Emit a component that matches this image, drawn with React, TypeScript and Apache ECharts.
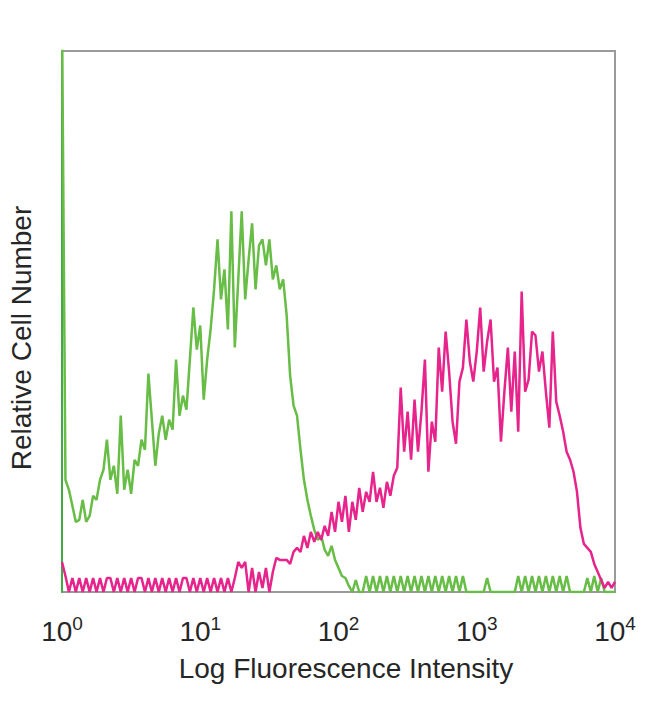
import React, { useEffect, useRef } from "react";
import * as echarts from "echarts";

// Histogram channels: 40 channels per decade, 4 decades (10^0 .. 10^4)
const channelsPerDecade = 40;
const decadeTicks = ["0", "1", "2", "3", "4"];

// Unstained / control (green), relative counts per channel 0..160
const greenCounts = [
  290, 56, 51, 43, 35, 36, 46, 35, 38, 48,
  46, 56, 61, 76, 56, 63, 49, 88, 51, 61,
  49, 66, 63, 76, 71, 109, 86, 63, 79, 88,
  76, 86, 81, 116, 88, 98, 91, 116, 142, 121,
  133, 96, 116, 131, 151, 176, 146, 161, 131, 190,
  122, 156, 190, 146, 166, 184, 151, 173, 176, 163,
  176, 156, 163, 151, 156, 138, 108, 93, 88, 71,
  56, 46, 38, 31, 26, 28, 21, 18, 23, 16,
  12, 8, 7, 3, 0, 6, 0, 0, 8, 0,
  8, 0, 8, 0, 8, 0, 8, 0, 8, 0,
  8, 0, 8, 0, 8, 0, 8, 0, 8, 0,
  8, 0, 8, 0, 8, 0, 8, 0, 0, 0,
  0, 0, 0, 7, 0, 0, 0, 0, 0, 0,
  0, 0, 8, 0, 8, 0, 8, 0, 8, 0,
  8, 0, 8, 0, 8, 0, 8, 0, 0, 0,
  0, 0, 7, 0, 8, 0, 7, 0, 0, 0,
  0,
];

// Stained sample (magenta), relative counts per channel 0..160
const magentaCounts = [
  15, 8, 0, 7, 0, 7, 0, 7, 0, 7,
  0, 7, 0, 7, 7, 0, 7, 0, 7, 0,
  7, 0, 7, 7, 0, 7, 0, 7, 0, 7,
  0, 7, 0, 7, 0, 7, 7, 0, 7, 0,
  7, 0, 7, 0, 7, 0, 7, 0, 7, 0,
  7, 15, 12, 15, 0, 12, 0, 10, 2, 12,
  0, 10, 17, 16, 16, 16, 14, 20, 22, 20,
  28, 22, 30, 25, 30, 26, 33, 28, 40, 30,
  45, 35, 48, 30, 45, 36, 52, 40, 50, 45,
  60, 45, 52, 42, 55, 48, 58, 62, 102, 70,
  90, 66, 96, 70, 90, 116, 60, 85, 75, 122,
  100, 130, 110, 85, 74, 105, 112, 136, 115, 105,
  120, 142, 110, 125, 136, 105, 112, 75, 100, 122,
  90, 120, 80, 150, 100, 106, 130, 128, 110, 120,
  100, 82, 130, 95, 88, 80, 70, 66, 60, 50,
  32, 24, 22, 20, 14, 10, 6, 2, 5, 2,
  5,
];

const greenColor = "#67bd45";
const magentaColor = "#e6248c";
const font = "Liberation Sans";
const textColor = "#262626";

export default function App() {
  const ref = useRef<HTMLDivElement>(null);

  useEffect(() => {
    if (!ref.current) return;
    const chart = echarts.init(ref.current, null, { renderer: "svg" });
    const maxCh = channelsPerDecade * (decadeTicks.length - 1);
    chart.setOption({
      animation: false,
      backgroundColor: "#ffffff",
      grid: {
        left: 62,
        top: 51,
        width: 553,
        height: 541,
        show: true,
        borderColor: "#9a9a9a",
        borderWidth: 2,
      },
      xAxis: {
        type: "value",
        min: 0,
        max: maxCh,
        interval: channelsPerDecade,
        axisLine: { show: false },
        axisTick: { show: false },
        splitLine: { show: false },
        axisLabel: {
          margin: 22,
          color: textColor,
          fontFamily: font,
          formatter: (v: number) =>
            `{b|10}{s|${decadeTicks[Math.round(v / channelsPerDecade)]}}`,
          rich: {
            b: { fontSize: 28, fontFamily: font, color: textColor },
            s: {
              fontSize: 19,
              fontFamily: font,
              color: textColor,
              padding: [0, 0, 16, 0],
            },
          },
        },
      },
      yAxis: {
        type: "value",
        min: 0,
        max: 270,
        axisLine: { show: true, lineStyle: { color: "#45a848", width: 2 } },
        axisTick: { show: false },
        axisLabel: { show: false },
        splitLine: { show: false },
      },
      graphic: [
        {
          type: "text",
          x: 21,
          y: 338,
          rotation: Math.PI / 2,
          style: {
            text: "Relative Cell Number",
            fontSize: 28,
            fontFamily: font,
            fill: textColor,
            align: "center",
            verticalAlign: "middle",
          },
        },
        {
          type: "text",
          x: 346,
          y: 668,
          style: {
            text: "Log Fluorescence Intensity",
            fontSize: 28,
            fontFamily: font,
            fill: textColor,
            align: "center",
            verticalAlign: "middle",
          },
        },
      ],
      series: [
        {
          type: "line",
          data: greenCounts.map((c, i) => [i, c]),
          symbol: "none",
          clip: true,
          lineStyle: { color: greenColor, width: 2.5 },
          z: 2,
        },
        {
          type: "line",
          data: magentaCounts.map((c, i) => [i, c]),
          symbol: "none",
          clip: true,
          lineStyle: { color: magentaColor, width: 2.5 },
          z: 3,
        },
      ],
    });
    return () => chart.dispose();
  }, []);

  return (
    <div
      ref={ref}
      style={{ position: "fixed", left: 0, top: 0, width: 650, height: 704 }}
    />
  );
}
